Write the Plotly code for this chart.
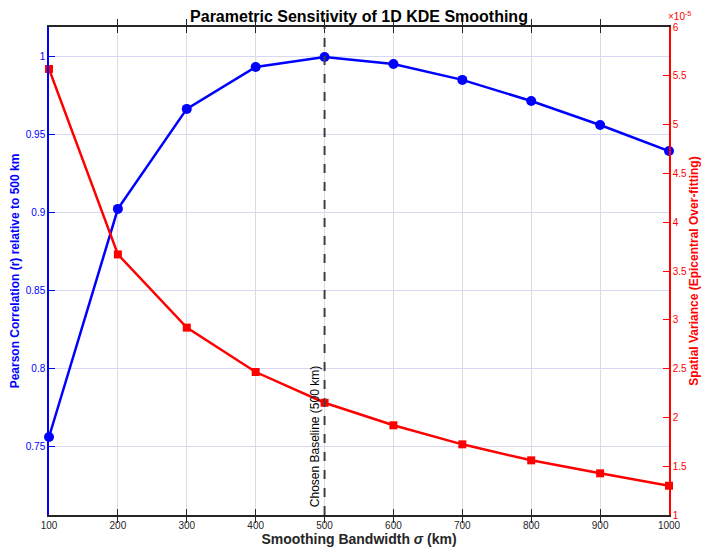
import plotly.graph_objects as go

bandwidth_km = [100, 200, 300, 400, 500, 600, 700, 800, 900, 1000]
pearson_r = [0.7564, 0.9026, 0.9667, 0.9936, 1.0, 0.9955, 0.9853, 0.9718, 0.9564, 0.9397]
variance_e5 = [5.57, 3.67, 2.92, 2.465, 2.15, 1.919, 1.724, 1.560, 1.427, 1.30]
baseline_km = 500

left_ticks = [0.75, 0.8, 0.85, 0.9, 0.95, 1]
left_ticktext = ["0.75", "0.8", "0.85", "0.9", "0.95", "1"]
right_ticks = [1, 1.5, 2, 2.5, 3, 3.5, 4, 4.5, 5, 5.5, 6]

BLUE = "#0000ff"
RED = "#ff0000"
FONT = "Liberation Sans"

fig = go.Figure()

fig.add_trace(go.Scatter(
    x=bandwidth_km, y=pearson_r, mode="lines+markers",
    line=dict(color=BLUE, width=2.5),
    marker=dict(symbol="circle", size=10, color=BLUE),
    yaxis="y", showlegend=False, cliponaxis=False,
))

fig.add_trace(go.Scatter(
    x=bandwidth_km, y=[v * 1e-5 for v in variance_e5], mode="lines+markers",
    line=dict(color=RED, width=2.5),
    marker=dict(symbol="square", size=8, color=RED),
    yaxis="y2", showlegend=False, cliponaxis=False,
))

# chosen baseline
fig.add_shape(type="line", x0=baseline_km, x1=baseline_km, xref="x",
              y0=0, y1=1, yref="paper",
              line=dict(color="#404040", width=2, dash="dash"))
fig.add_annotation(x=baseline_km, xref="x", y=0.012, yref="paper",
                   text="Chosen Baseline (500 km)", textangle=-90,
                   showarrow=False, xanchor="right", yanchor="bottom",
                   xshift=-1, font=dict(family=FONT, size=12, color="black"))

fig.add_annotation(x=1.0, xref="paper", y=1.0, yref="paper",
                   text="×10<sup>-5</sup>", showarrow=False,
                   xanchor="left", yanchor="bottom", xshift=-3, yshift=3,
                   font=dict(family=FONT, size=10, color=RED))

# page body adds an 8px offset, so the figure is a bit smaller than the window
fig.update_layout(
    width=706, height=549,
    margin=dict(l=41, r=45, t=19, b=42, autoexpand=False),
    paper_bgcolor="white", plot_bgcolor="white",
    font=dict(family=FONT, size=10, color="#262626"),
    title=dict(text="<b>Parametric Sensitivity of 1D KDE Smoothing</b>",
               x=0.5, xref="paper", xanchor="center",
               y=1, yref="container", yanchor="top", pad=dict(t=3),
               font=dict(family=FONT, size=16, color="black")),
    xaxis=dict(
        range=[100, 1000], tickvals=bandwidth_km,
        showgrid=True, gridcolor="#dcdcdc", gridwidth=1,
        showline=True, linecolor="#262626", linewidth=1.5, mirror="allticks",
        ticks="inside", ticklen=6, tickcolor="#262626",
        zeroline=False, automargin=False,
        tickfont=dict(family=FONT, size=10, color="#262626"),
        title=dict(text="<b>Smoothing Bandwidth <i>σ</i> (km)</b>",
                   standoff=4,
                   font=dict(family=FONT, size=14, color="#262626")),
    ),
    yaxis=dict(
        range=[0.7064, 1.0192], tickvals=left_ticks, ticktext=left_ticktext,
        showgrid=True, gridcolor="#d8d8f4", gridwidth=1,
        showline=True, linecolor=BLUE, linewidth=1.5,
        ticks="inside", ticklen=6, tickcolor=BLUE,
        zeroline=False, automargin=False,
        tickfont=dict(family=FONT, size=10, color=BLUE),
        title=dict(text="<b>Pearson Correlation (r) relative to 500 km</b>",
                   standoff=4,
                   font=dict(family=FONT, size=12, color=BLUE)),
    ),
    yaxis2=dict(
        overlaying="y", side="right",
        range=[1e-5, 6e-5], tickvals=[t * 1e-5 for t in right_ticks],
        ticktext=[f"{t:g}" for t in right_ticks],
        showgrid=False,
        showline=True, linecolor=RED, linewidth=1.5,
        ticks="inside", ticklen=6, tickcolor=RED,
        zeroline=False, automargin=False,
        tickfont=dict(family=FONT, size=10, color=RED),
        title=dict(text="<b>Spatial Variance (Epicentral Over-fitting)</b>",
                   standoff=4,
                   font=dict(family=FONT, size=12, color=RED)),
    ),
)

fig.write_html("out.html")
